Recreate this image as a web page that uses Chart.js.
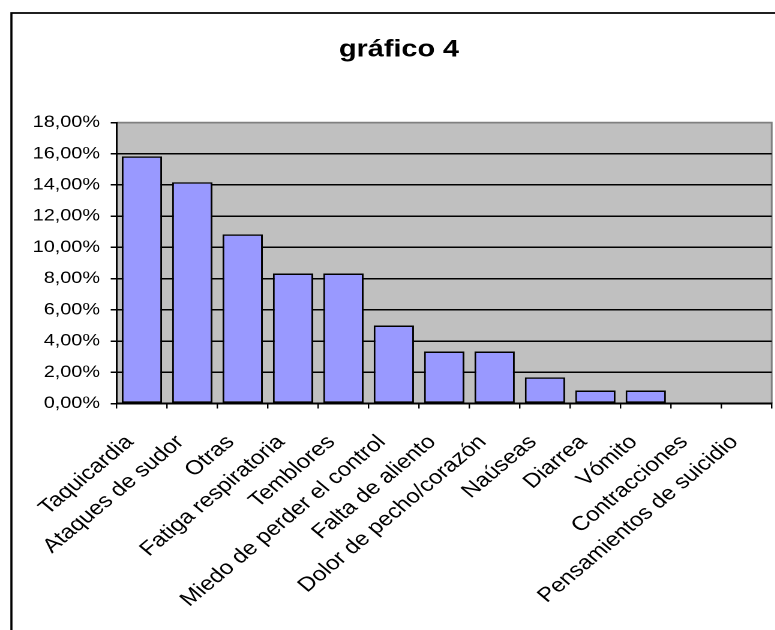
<!DOCTYPE html>
<html lang="es">
<head>
<meta charset="utf-8">
<title>gráfico 4</title>
<script src="https://cdn.jsdelivr.net/npm/chart.js@4/dist/chart.umd.min.js"></script>
<style>
  html, body { margin: 0; padding: 0; background: #fff; overflow: hidden; }
  /* the chart is laid out narrow and widened horizontally, like a stretched spreadsheet chart */
  #lienzo {
    position: absolute; left: 0; top: 0;
    width: 646px; height: 630px;
    transform: scaleX(1.2); transform-origin: 0 0;
  }
</style>
</head>
<body>
<div id="lienzo"><canvas id="grafico"></canvas></div>
<script>
// Síntomas y porcentaje de casos
const categorias = [
  'Taquicardia', 'Ataques de sudor', 'Otras', 'Fatiga respiratoria', 'Temblores',
  'Miedo de perder el control', 'Falta de aliento', 'Dolor de pecho/corazón',
  'Naúseas', 'Diarrea', 'Vómito', 'Contracciones', 'Pensamientos de suicidio'
];
const porcentajes = [15.83, 14.17, 10.83, 8.33, 8.33, 5.00, 3.33, 3.33, 1.67, 0.83, 0.83, 0, 0];
const marcasEje = [0, 2, 4, 6, 8, 10, 12, 14, 16, 18];
const titulo = 'gráfico 4';

const FUENTE = '"Liberation Sans", Arial, Helvetica, sans-serif';
Chart.defaults.font.family = FUENTE;
Chart.defaults.color = '#000';

const formatoPorcentaje = v => v.toFixed(2).replace('.', ',') + '%';

// grey plot area, its grey top/right edge, the outer frame and the title
const decoracion = {
  id: 'decoracion',
  beforeDraw(chart) {
    const { ctx, chartArea: a } = chart;
    ctx.save();
    ctx.fillStyle = '#C0C0C0';
    ctx.fillRect(a.left, a.top, a.right - a.left, a.bottom - a.top);
    ctx.strokeStyle = '#808080';
    ctx.lineWidth = 1.5;
    ctx.beginPath();
    ctx.moveTo(a.left, a.top);
    ctx.lineTo(a.right, a.top);
    ctx.lineTo(a.right, a.bottom);
    ctx.stroke();

    ctx.strokeStyle = '#000';
    ctx.lineWidth = 1.8;
    ctx.lineJoin = 'miter';
    ctx.beginPath();
    ctx.moveTo(9.5, chart.height + 10);
    ctx.lineTo(9.5, 13);
    ctx.lineTo(chart.width + 10, 13);
    ctx.stroke();

    ctx.fillStyle = '#000';
    ctx.font = 'bold 24px ' + FUENTE;
    ctx.textAlign = 'center';
    ctx.textBaseline = 'middle';
    ctx.fillText(titulo, 332.5, 49.7);
    ctx.restore();
  }
};

new Chart(document.getElementById('grafico'), {
  type: 'bar',
  data: {
    labels: categorias,
    datasets: [{
      data: porcentajes,
      backgroundColor: '#9999FF',
      borderColor: '#000',
      borderWidth: 1.5,
      borderSkipped: false,
      barPercentage: 0.8,
      categoryPercentage: 1.0
    }]
  },
  options: {
    responsive: true,
    maintainAspectRatio: false,
    animation: false,
    devicePixelRatio: 2,
    layout: { padding: { left: 0, right: 2.9, top: 122.5, bottom: 0 } },
    plugins: {
      legend: { display: false },
      title: { display: false },
      tooltip: { enabled: false }
    },
    scales: {
      x: {
        grid: {
          display: true,
          offset: true,
          drawOnChartArea: false,
          drawTicks: true,
          tickLength: 5,
          color: '#000',
          lineWidth: 1.2
        },
        border: { display: true, color: '#000', width: 2 },
        ticks: {
          autoSkip: false,
          maxRotation: 45,
          minRotation: 45,
          padding: 22,
          labelOffset: -10,
          color: '#000',
          font: { size: 20 }
        },
        afterFit(scale) {
          scale.height = 630 - 403.5;
          scale.paddingLeft = 0;
          scale.paddingRight = 0;
        }
      },
      y: {
        min: 0,
        max: 18,
        afterBuildTicks(scale) {
          scale.ticks = marcasEje.map(v => ({ value: v }));
        },
        grid: {
          color: c => (c.tick && c.tick.value === 18 ? '#808080' : '#000'),
          lineWidth: 1.5,
          tickLength: 5,
          tickColor: '#000',
          drawTicks: true
        },
        border: { display: true, color: '#000', width: 1.5 },
        ticks: {
          padding: 9,
          color: '#000',
          font: { size: 16.5 },
          callback: v => formatoPorcentaje(v)
        },
        afterFit(scale) {
          scale.width = 97.25;
          scale.paddingTop = 0;
          scale.paddingBottom = 0;
        }
      }
    }
  },
  plugins: [decoracion]
});
</script>
</body>
</html>
